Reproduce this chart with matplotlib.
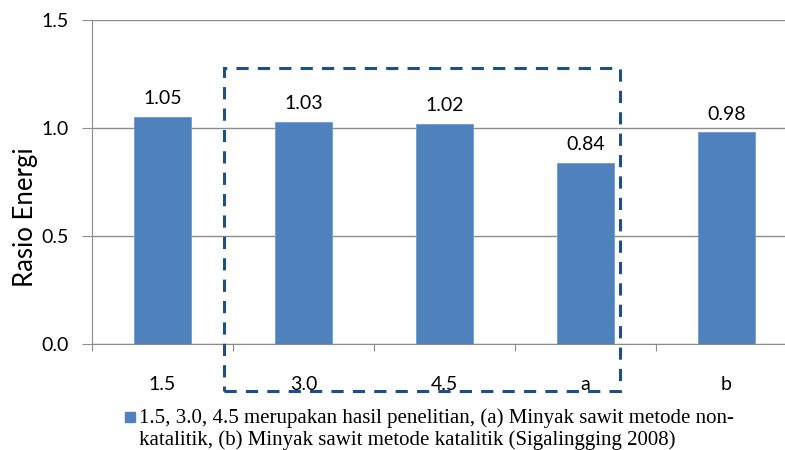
import matplotlib
matplotlib.use("Agg")
import matplotlib.pyplot as plt
from matplotlib.patches import Rectangle

categories = ["1.5", "3.0", "4.5", "a", "b"]
ratios = [1.05, 1.03, 1.02, 0.84, 0.98]
yticks = [0.0, 0.5, 1.0, 1.5]
note_lines = ["1.5, 3.0, 4.5 merupakan hasil penelitian, (a) Minyak sawit metode non-",
              "katalitik, (b) Minyak sawit metode katalitik (Sigalingging 2008)"]

blue = "#4F81BD"
grid = "#8c8c8c"
sans = ["Lato", "DejaVu Sans"]

fig = plt.figure(figsize=(7.85, 4.5), dpi=100)
ax = fig.add_axes([92 / 785, 106 / 450, 705 / 785, 324 / 450])

x = range(len(categories))
ax.bar(x, ratios, width=0.4, color=blue, edgecolor="#6f9bd0", lw=0.6, zorder=3)
for i, v in zip(x, ratios):
    ax.text(i, v + 0.045, f"{v:.2f}", ha="center", va="bottom", fontsize=14, family=sans)

ax.set_xlim(-0.5, len(categories) - 0.5)
ax.set_ylim(0, 1.5)
ax.set_yticks(yticks)
ax.set_yticklabels([f"{t:.1f}" for t in yticks], family=sans, fontsize=14)
ax.yaxis.grid(True, color=grid, lw=1, zorder=0)
ax.tick_params(axis="y", length=7, color=grid, pad=10)

# boundaries as major ticks, labels on minor ticks at bar centres
ax.set_xticks([i - 0.5 for i in range(len(categories) + 1)])
ax.set_xticklabels([])
ax.set_xticks(list(x), minor=True)
ax.set_xticklabels(categories, minor=True, family=sans, fontsize=14)
ax.tick_params(axis="x", which="major", length=5, color=grid)
ax.tick_params(axis="x", which="minor", length=0, pad=23)

for s in ("top", "right"):
    ax.spines[s].set_visible(False)
for s in ("left", "bottom"):
    ax.spines[s].set_color(grid)
ax.set_ylabel("Rasio Energi", family=sans, fontsize=18.5)
ax.yaxis.set_label_coords(-0.076, 0.392)

# dashed box round the study results
ax.add_patch(Rectangle((0.436, -0.218), 2.81, 1.496, fill=False, ls=(0, (4, 3)),
                       lw=2.2, edgecolor="#1f4e8c", clip_on=False, zorder=5))

# legend note
fig.patches.append(Rectangle((125 / 785, 1 - 422 / 450), 10 / 785, 10 / 450,
                             transform=fig.transFigure, color=blue, figure=fig))
for line, base in zip(note_lines, (423, 445)):
    fig.text(139 / 785, 1 - base / 450, line, family=["Liberation Serif"], fontsize=15,
             va="baseline", ha="left")

fig.savefig("out.png", dpi=100)
